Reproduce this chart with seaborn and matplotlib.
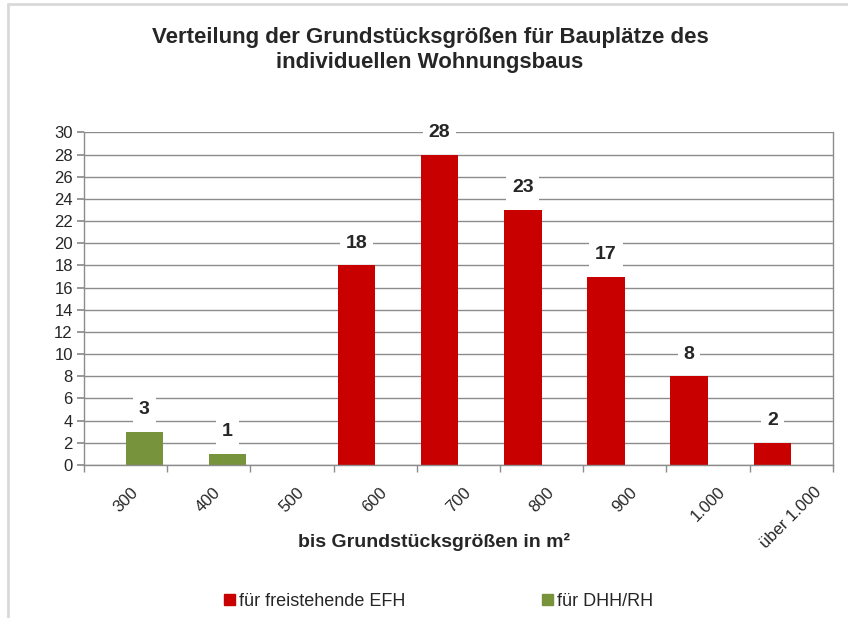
import matplotlib
matplotlib.use("Agg")
import matplotlib.pyplot as plt
import matplotlib.patches as mpatches
import matplotlib.lines as mlines
import pandas as pd
import seaborn as sns

# data
categories = ['300', '400', '500', '600', '700', '800', '900', '1.000', 'über 1.000']
efh_counts = [0, 0, 0, 18, 28, 23, 17, 8, 2]
dhh_counts = [3, 1, 0, 0, 0, 0, 0, 0, 0]
series_names = ['für freistehende EFH', 'für DHH/RH']

red = '#C80000'
green = '#77933C'

df = pd.DataFrame({
    'size': categories * 2,
    'count': efh_counts + dhh_counts,
    'type': [series_names[0]] * len(categories) + [series_names[1]] * len(categories),
})

sns.set_theme(style='white')
plt.rcParams['font.family'] = ['Liberation Sans', 'DejaVu Sans']

fig = plt.figure(figsize=(8.48, 6.18), dpi=100)
ax = fig.add_axes([0.099, 0.2476, 0.883, 0.538])

sns.barplot(data=df, x='size', y='count', hue='type', order=categories,
            palette=[red, green], width=0.9, saturation=1, legend=False,
            linewidth=0, ax=ax)

ax.set_ylim(0, 30)
ax.set_xlim(-0.5, len(categories) - 0.5)
ax.set_yticks(range(0, 31, 2))
ax.yaxis.grid(True, color='#8c8c8c', linewidth=1)
ax.set_axisbelow(True)
ax.spines['top'].set_visible(False)
for s in ['left', 'bottom', 'right']:
    ax.spines[s].set_color('#8c8c8c')
    ax.spines[s].set_linewidth(1)

ax.tick_params(axis='y', which='major', length=5, color='#8c8c8c', labelsize=12, left=True, pad=3)
ax.set_xticks(range(len(categories)))
ax.set_xticklabels(categories, rotation=45, ha='center', fontsize=12)
ax.tick_params(axis='x', which='major', length=0, pad=14)
ax.set_xticks([i - 0.5 for i in range(len(categories) + 1)], minor=True)
ax.tick_params(axis='x', which='minor', length=5, color='#8c8c8c', bottom=True)
ax.set_xlabel('')
ax.set_ylabel('')

# value labels with white boxes, over the non-empty bar of each category
for cont in ax.containers:
    for bar in cont:
        v = bar.get_height()
        if v <= 0:
            continue
        ax.annotate('%d' % v, (bar.get_x() + bar.get_width() / 2, v), xytext=(0, 16),
                    textcoords='offset points', ha='center', va='center',
                    fontsize=14, fontweight='bold',
                    bbox=dict(boxstyle='square,pad=0.3', fc='white', ec='none'))

fig.text(0.507, 0.957, 'Verteilung der Grundstücksgrößen für Bauplätze des\nindividuellen Wohnungsbaus',
         ha='center', va='top', fontsize=16, fontweight='bold', linespacing=1.3)
fig.text(0.512, 0.123, 'bis Grundstücksgrößen in m²', ha='center', va='center',
         fontsize=14, fontweight='bold')

handles = [mpatches.Patch(color=red, label=series_names[0]),
           mpatches.Patch(color=green, label=series_names[1])]
fig.legend(handles=handles, loc='center', bbox_to_anchor=(0.517, 0.027), ncol=2,
           frameon=False, fontsize=13, handlelength=0.6, handleheight=0.6,
           handletextpad=0.2, columnspacing=7.6)

# outer chart border (only top and left are visible in the reference)
fig.add_artist(mlines.Line2D([0.009, 1.0], [0.993, 0.993], transform=fig.transFigure,
                             color='#d9d9d9', lw=2))
fig.add_artist(mlines.Line2D([0.009, 0.009], [0.0, 0.993], transform=fig.transFigure,
                             color='#d9d9d9', lw=2))

fig.savefig('out.png', dpi=100)
